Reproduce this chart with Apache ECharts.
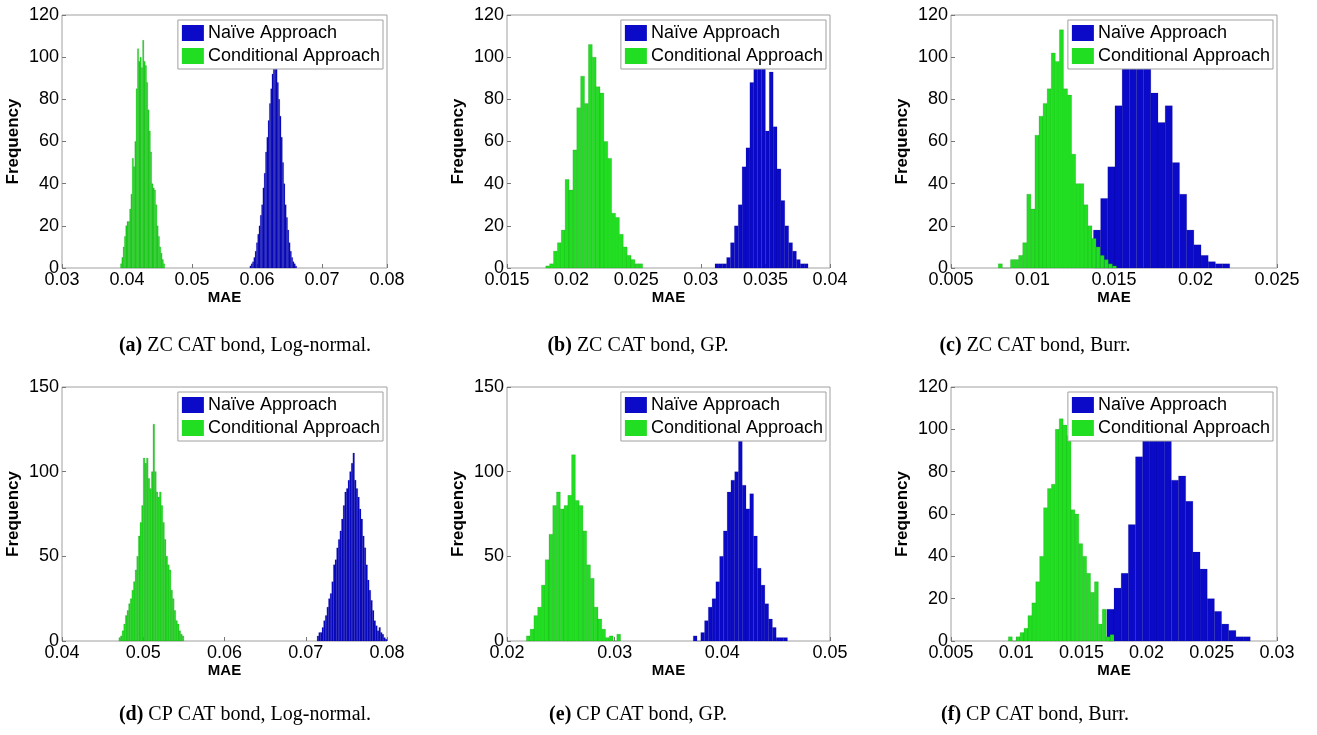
<!DOCTYPE html>
<html>
<head>
<meta charset="utf-8">
<script src="https://cdn.jsdelivr.net/npm/echarts@6/dist/echarts.min.js"></script>
<style>
  html, body { margin: 0; background: #fff; }
  #chart { width: 1317px; height: 735px; }
</style>
</head>
<body>
<div id="chart"></div>
<script>
// six MAE histograms, naive vs conditional approach

const seriesNames = ['Naïve Approach', 'Conditional Approach'];
const captionTags = ['(a)', '(b)', '(c)', '(d)', '(e)', '(f)'];
const captionTexts = [' ZC CAT bond, Log-normal.', ' ZC CAT bond, GP.', ' ZC CAT bond, Burr.',
                      ' CP CAT bond, Log-normal.', ' CP CAT bond, GP.', ' CP CAT bond, Burr.'];

// axes
const xMin = [0.03, 0.015, 0.005, 0.04, 0.02, 0.005];
const xMax = [0.08, 0.04, 0.025, 0.08, 0.05, 0.03];
const xStep = [0.01, 0.005, 0.005, 0.01, 0.01, 0.005];
const yMax = [120, 120, 120, 150, 150, 120];
const yStep = [20, 20, 20, 50, 50, 20];

// bins: first left edge, bin width
const naiveStart = [0.0589, 0.0311, 0.01374, 0.0714, 0.0373, 0.01695];
const naiveWidth = [0.0002, 0.0003, 0.00044, 0.0002, 0.00035, 0.00055];
const condStart = [0.0390, 0.0180, 0.0079, 0.0470, 0.0218, 0.0094];
const condWidth = [0.0002, 0.0003, 0.00025, 0.0002, 0.00035, 0.0003];

// counts per bin
const naiveA = [1, 2, 3, 5, 8, 12, 16, 20, 25, 30, 38, 45, 55, 62, 70, 78, 85, 92, 97, 100, 96, 88, 80, 72, 62, 50, 40, 30, 24, 18, 12, 8, 5, 3, 2, 1];
const condA = [2, 5, 10, 15, 20, 22, 22, 28, 35, 52, 48, 60, 85, 104, 98, 100, 95, 108, 98, 96, 88, 75, 65, 55, 40, 38, 37, 30, 20, 15, 10, 7, 4, 2];
const naiveB = [2, 2, 2, 5, 12, 20, 30, 48, 57, 88, 95, 98, 96, 65, 93, 67, 47, 32, 20, 12, 8, 4, 2, 2];
const condB = [1, 2, 8, 12, 18, 42, 37, 56, 76, 91, 78, 106, 100, 86, 83, 60, 52, 26, 24, 16, 10, 6, 4, 2, 2];
const naiveC = [18, 33, 48, 77, 97, 104, 100, 97, 83, 69, 77, 50, 35, 18, 11, 6, 3, 2, 2];
const condC = [2, 0, 0, 4, 4, 6, 12, 35, 28, 63, 72, 78, 85, 102, 98, 113, 85, 82, 54, 40, 40, 30, 20, 14, 10, 6, 4, 2, 1];
const naiveD = [3, 5, 5, 8, 12, 15, 20, 25, 28, 35, 45, 48, 55, 60, 65, 72, 80, 88, 90, 95, 100, 105, 111, 95, 90, 85, 78, 72, 62, 55, 45, 36, 30, 24, 18, 12, 9, 6, 8, 5, 4, 2, 1];
const condD = [2, 3, 6, 10, 15, 18, 22, 25, 30, 35, 42, 50, 62, 70, 80, 108, 105, 108, 96, 90, 100, 128, 100, 88, 85, 88, 80, 70, 60, 50, 45, 42, 30, 25, 18, 12, 10, 6, 4, 3];
const naiveE = [3, 0, 5, 12, 20, 25, 35, 50, 65, 88, 95, 100, 120, 92, 78, 87, 62, 43, 33, 22, 13, 8, 2, 2, 2];
const condE = [3, 7, 15, 20, 33, 48, 63, 80, 88, 78, 80, 86, 110, 83, 80, 65, 45, 37, 20, 13, 7, 2, 3, 0, 4];
const naiveF = [15, 25, 32, 55, 87, 100, 104, 105, 100, 76, 78, 66, 42, 34, 20, 14, 8, 5, 2, 2];
const condF = [2, 0, 2, 4, 6, 12, 18, 28, 40, 63, 72, 74, 100, 105, 102, 97, 62, 60, 46, 40, 32, 23, 28, 8, 15, 2, 3];

const naiveCounts = [naiveA, naiveB, naiveC, naiveD, naiveE, naiveF];
const condCounts = [condA, condB, condC, condD, condE, condF];

// layout
const gridLeft = [62, 507, 951];
const gridWidth = [325, 323, 326];
const rowTop = [15, 387];
const rowHeight = [253, 254];
const captionX = [245, 638, 1035];
const captionY = [346, 715];

const SANS = 'Liberation Sans, Arial, sans-serif';
const SERIF = 'Liberation Serif, Times New Roman, serif';
const BLUE = '#0a0ac8';
const GREEN = '#22de22';

function hist(start, width, counts) {
  return counts.map((c, i) => [start + i * width, start + (i + 1) * width, c]);
}

function renderBin(params, api) {
  const top = api.coord([api.value(0), api.value(2)]);
  const end = api.coord([api.value(1), 0]);
  return {
    type: 'rect',
    shape: { x: top[0], y: top[1], width: end[0] - top[0], height: end[1] - top[1] },
    style: api.style()
  };
}

const grids = [], xAxes = [], yAxes = [], series = [], legends = [], titles = [];

for (let i = 0; i < 6; i++) {
  const col = i % 3, row = Math.floor(i / 3);
  grids.push({
    left: gridLeft[col], top: rowTop[row], width: gridWidth[col], height: rowHeight[row],
    show: true, borderColor: '#a0a0a0', borderWidth: 1
  });
  xAxes.push({
    type: 'value', gridIndex: i, min: xMin[i], max: xMax[i], interval: xStep[i],
    name: 'MAE', nameLocation: 'middle', nameGap: 21,
    nameTextStyle: { fontFamily: SANS, fontSize: 15, fontWeight: 'bold', color: '#000' },
    axisLine: { show: false },
    axisTick: { show: true, inside: true, length: 4, lineStyle: { color: '#777' } },
    axisLabel: { fontFamily: SANS, fontSize: 18, color: '#000', margin: 3 },
    splitLine: { show: false }
  });
  yAxes.push({
    type: 'value', gridIndex: i, min: 0, max: yMax[i], interval: yStep[i],
    name: 'Frequency', nameLocation: 'middle', nameGap: 40,
    nameTextStyle: { fontFamily: SANS, fontSize: 17, fontWeight: 'bold', color: '#000' },
    axisLine: { show: false },
    axisTick: { show: true, inside: true, length: 4, lineStyle: { color: '#777' } },
    axisLabel: { fontFamily: SANS, fontSize: 18, color: '#000', margin: 3 },
    splitLine: { show: false }
  });
  series.push({
    name: seriesNames[0], type: 'custom', xAxisIndex: i, yAxisIndex: i,
    renderItem: renderBin, encode: { x: [0, 1], y: 2 },
    itemStyle: { color: BLUE, borderColor: 'rgba(0,0,90,0.3)', borderWidth: 0.5 },
    data: hist(naiveStart[i], naiveWidth[i], naiveCounts[i])
  });
  series.push({
    name: seriesNames[1], type: 'custom', xAxisIndex: i, yAxisIndex: i,
    renderItem: renderBin, encode: { x: [0, 1], y: 2 },
    itemStyle: { color: GREEN, borderColor: 'rgba(0,110,0,0.35)', borderWidth: 0.5 },
    data: hist(condStart[i], condWidth[i], condCounts[i])
  });
  legends.push({
    orient: 'vertical',
    right: 1317 - (gridLeft[col] + gridWidth[col]) + 4,
    top: rowTop[row] + 5,
    data: seriesNames.map(n => ({ name: n, icon: 'rect' })),
    itemWidth: 22, itemHeight: 16, itemGap: 5,
    padding: [4, 3, 4, 4],
    backgroundColor: '#fff', borderColor: '#a0a0a0', borderWidth: 1,
    itemStyle: { borderWidth: 0 },
    textStyle: { fontFamily: SANS, fontSize: 18, color: '#000', padding: [0, 0, 0, -1] },
    selectedMode: false
  });
  titles.push({
    text: '{b|' + captionTags[i] + '}{n|' + captionTexts[i] + '}',
    left: captionX[col], top: captionY[row], padding: 0,
    textAlign: 'center', textVerticalAlign: 'middle',
    textStyle: {
      rich: {
        b: { fontFamily: SERIF, fontSize: 20, fontWeight: 'bold', color: '#000' },
        n: { fontFamily: SERIF, fontSize: 20, fontWeight: 'normal', color: '#000' }
      }
    }
  });
}

const chart = echarts.init(document.getElementById('chart'), null, { renderer: 'canvas' });
chart.setOption({
  backgroundColor: '#fff',
  animation: false,
  title: titles,
  grid: grids,
  xAxis: xAxes,
  yAxis: yAxes,
  legend: legends,
  series: series
});
</script>
</body>
</html>
